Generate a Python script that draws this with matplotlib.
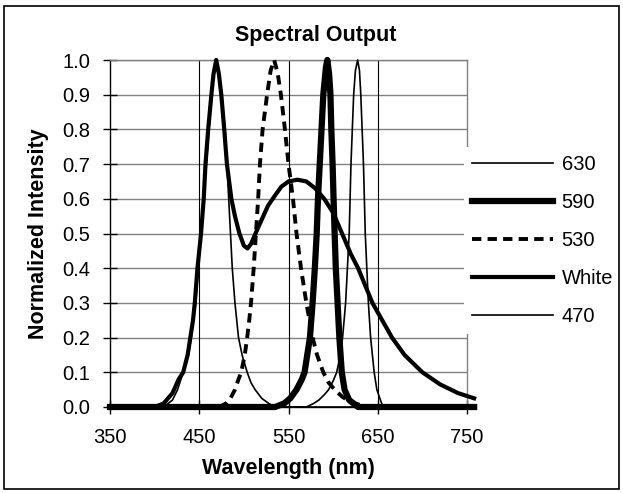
import matplotlib
matplotlib.use("Agg")
import matplotlib.pyplot as plt
from matplotlib.patches import Rectangle

plt.rcParams['font.family'] = ['Liberation Sans', 'DejaVu Sans']

# ---- data ----
wl_white = [350, 400, 410, 420, 427, 432, 437, 440, 443, 445, 448, 452, 455, 457, 460, 463.6, 466, 469,
            472, 474.7, 478, 481, 486, 490, 495, 500, 504, 508, 513, 520, 527, 535, 542, 550, 560, 570,
            580, 590, 600, 610, 620, 628, 636, 644, 655, 666, 680, 700, 720, 740, 758]
int_white = [0, 0, 0.01, 0.04, 0.08, 0.10, 0.15, 0.20, 0.25, 0.30, 0.40, 0.50, 0.60, 0.70, 0.80, 0.90, 0.96, 1.0,
             0.96, 0.90, 0.80, 0.70, 0.60, 0.55, 0.50, 0.465, 0.457, 0.47, 0.50, 0.54, 0.58, 0.61, 0.635, 0.65, 0.655, 0.65,
             0.63, 0.60, 0.56, 0.50, 0.44, 0.40, 0.35, 0.30, 0.25, 0.20, 0.15, 0.10, 0.065, 0.04, 0.025]

wl_470 = [350, 410, 420, 425.7, 432, 438, 441, 446, 449, 452, 455, 458, 461, 464, 468, 472, 476, 479, 481,
          483, 485, 487, 490, 494, 498, 503.7, 508, 512.6, 520, 528, 535, 758]
int_470 = [0, 0, 0.02, 0.05, 0.10, 0.15, 0.20, 0.30, 0.40, 0.50, 0.60, 0.70, 0.80, 0.90, 1.0, 0.95, 0.88, 0.80, 0.70,
           0.60, 0.50, 0.40, 0.30, 0.20, 0.15, 0.10, 0.07, 0.05, 0.025, 0.01, 0, 0]

wl_530 = [350, 472, 480, 485, 490, 494, 497, 501, 503.7, 506, 508, 511, 513.5, 516, 518, 521, 526, 530, 534,
          538, 541.5, 546, 550, 555, 559, 564, 570, 577, 582, 589, 595, 601.7, 610, 619, 637, 758]
int_530 = [0, 0, 0.01, 0.025, 0.05, 0.08, 0.10, 0.15, 0.20, 0.25, 0.30, 0.40, 0.50, 0.60, 0.70, 0.80, 0.90, 0.97, 1.0,
           0.96, 0.90, 0.80, 0.70, 0.60, 0.50, 0.40, 0.30, 0.20, 0.15, 0.10, 0.07, 0.05, 0.03, 0.015, 0, 0]

wl_590 = [350, 535, 545, 552, 559, 565, 568, 571, 574, 577, 579.5, 581.6, 583, 585, 587, 589, 592, 593.5,
          595.5, 597, 598, 599.4, 600.5, 601.7, 603, 605, 607, 609.7, 612.8, 618, 628, 758]
int_590 = [0, 0, 0.01, 0.025, 0.05, 0.08, 0.10, 0.15, 0.20, 0.30, 0.40, 0.50, 0.60, 0.70, 0.80, 0.90, 0.98, 1.0,
           0.96, 0.90, 0.80, 0.70, 0.60, 0.50, 0.40, 0.30, 0.20, 0.10, 0.05, 0.02, 0, 0]

wl_630 = [350, 570, 578, 584, 590, 595, 600, 604, 608, 610.6, 614, 616, 618, 619, 620, 621.5, 623, 625, 627.5,
          629.5, 631, 634, 636, 639.5, 642, 646, 649, 653, 656, 758]
int_630 = [0, 0, 0.01, 0.02, 0.035, 0.05, 0.075, 0.10, 0.15, 0.20, 0.30, 0.40, 0.50, 0.60, 0.70, 0.80, 0.90, 0.97, 1.0,
           0.97, 0.90, 0.70, 0.50, 0.30, 0.20, 0.10, 0.05, 0.02, 0, 0]

x_ticks = [350, 450, 550, 650, 750]
y_ticks = [0.0, 0.1, 0.2, 0.3, 0.4, 0.5, 0.6, 0.7, 0.8, 0.9, 1.0]

W, H = 623, 493
fig = plt.figure(figsize=(W / 100, H / 100), dpi=100)
ax = fig.add_axes([110 / W, 1 - 407 / H, (467 - 110) / W, (407 - 60) / H])

ax.set_xlim(350, 750)
ax.set_ylim(0, 1.0)

# grid
for yv in y_ticks[1:]:
    ax.axhline(yv, color='#808080', lw=1.0, zorder=1)
for xv in x_ticks[1:-1]:
    ax.axvline(xv, color='#000000', lw=0.8, zorder=1)

l630, = ax.plot(wl_630, int_630, color='black', lw=1.2, clip_on=False, zorder=3, label='630')
l590, = ax.plot(wl_590, int_590, color='black', lw=4.5, clip_on=False, zorder=3, label='590')
l530, = ax.plot(wl_530, int_530, color='black', lw=2.8, dashes=(2.4, 1.6), clip_on=False, zorder=3, label='530')
lwh, = ax.plot(wl_white, int_white, color='black', lw=3.0, clip_on=False, zorder=3, label='White')
l470, = ax.plot(wl_470, int_470, color='black', lw=1.2, clip_on=False, zorder=3, label='470')

ax.set_xticks(x_ticks)
ax.set_yticks(y_ticks)
ax.set_yticklabels([f"{v:.1f}" for v in y_ticks])
ax.tick_params(axis='both', direction='inout', length=10, width=1, labelsize=14.5, colors='black')
ax.tick_params(axis='y', pad=9)
ax.tick_params(axis='x', pad=10)

for s in ['left', 'bottom']:
    ax.spines[s].set_color('black')
    ax.spines[s].set_linewidth(1.0)
for s in ['top', 'right']:
    ax.spines[s].set_color('#808080')
    ax.spines[s].set_linewidth(1.0)

ax.set_xlabel('Wavelength (nm)', fontsize=15.5, fontweight='bold', labelpad=8)
ax.set_ylabel('Normalized Intensity', fontsize=15.5, fontweight='bold', labelpad=10)
fig.text(316 / W, 1 - 36 / H, 'Spectral Output', fontsize=15.5, fontweight='bold', ha='center', va='center')

leg = ax.legend(handles=[l630, l590, l530, lwh, l470], loc='center left',
                bbox_to_anchor=(464 / W, 1 - 240.5 / H), bbox_transform=fig.transFigure,
                fontsize=14.5, handlelength=4.0, handletextpad=0.45, labelspacing=0.95,
                borderpad=0.4, borderaxespad=0, frameon=True, fancybox=False)
leg.get_frame().set_facecolor('white')
leg.get_frame().set_edgecolor('none')
leg.get_frame().set_alpha(1)

fig.patches.append(Rectangle((4 / W, 1 - 489 / H), (619 - 4) / W, (489 - 6) / H,
                             transform=fig.transFigure, fill=False, edgecolor='black', lw=1.2))

fig.savefig('out.png', dpi=100)
